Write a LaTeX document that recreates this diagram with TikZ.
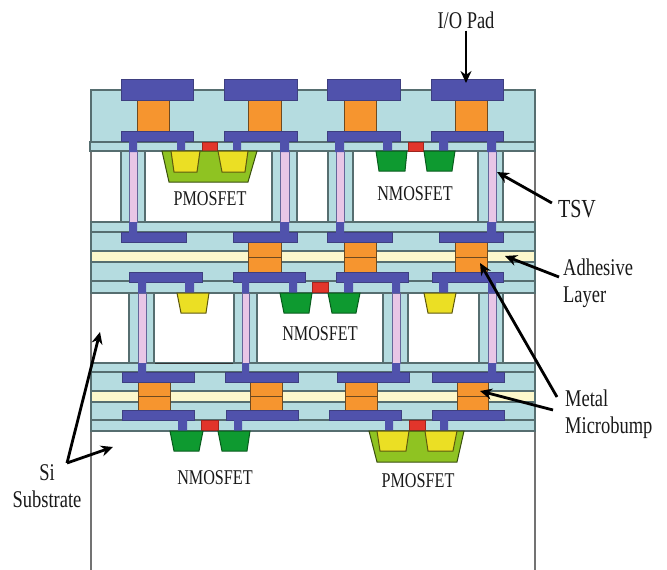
\documentclass[tikz,border=0pt]{standalone}
\usepackage{fontspec}
\usepackage{tikz}
\usetikzlibrary{arrows.meta, positioning}
\newfontfamily\labelfont[FakeStretch=0.77]{Liberation Serif}
\definecolor{oxide}{HTML}{B5DCE0}
\definecolor{oxideline}{HTML}{566E70}
\definecolor{metalblue}{HTML}{5052AC}
\definecolor{metalline}{HTML}{3E3F80}
\definecolor{bumporange}{HTML}{F6952F}
\definecolor{bumpline}{HTML}{6E4A20}
\definecolor{adhesive}{HTML}{FCF8CC}
\definecolor{corepink}{HTML}{E8C6E6}
\definecolor{ngreen}{HTML}{0E9A30}
\definecolor{pwell}{HTML}{8FC322}
\definecolor{pyellow}{HTML}{EBDF24}
\definecolor{gatered}{HTML}{E2352B}

\begin{document}
\begin{tikzpicture}[
    x=1pt, y=-1pt,
    % Styles
    layer/.style={fill=oxide, draw=oxideline, line width=1.3pt},
    glue/.style={fill=adhesive, draw=oxideline, line width=1.3pt},
    sheath/.style={fill=oxide, draw=oxideline, line width=1.3pt},
    core/.style={fill=corepink, draw=metalline!80, line width=0.6pt},
    metal/.style={fill=metalblue, draw=metalline, line width=1pt},
    stem/.style={fill=metalblue},
    bump/.style={fill=bumporange, draw=bumpline, line width=1pt},
    gate/.style={fill=gatered, draw=gatered!70!black, line width=0.4pt},
    ndiff/.style={fill=ngreen, draw=ngreen!60!black, line width=1pt},
    pbody/.style={fill=pwell, draw=pwell!40!black, line width=1pt},
    pdiff/.style={fill=pyellow, draw=pyellow!40!black, line width=1pt},
    devlabel/.style={font=\labelfont\fontsize{21}{23}\selectfont, text=black!90},
    sidelabel/.style={font=\labelfont\fontsize{24}{27}\selectfont, text=black!90, align=left, inner sep=2pt},
    callout/.style={-{Stealth[length=12pt, width=11pt]}, line width=2.8pt, black},
]
\useasboundingbox (0,0) rectangle (667,570);

% === SUBSTRATE WALLS ===
\draw[black!55, line width=1.5pt] (91,90) -- (91,570);
\draw[black!55, line width=1.5pt] (535,90) -- (535,570);

% === DIELECTRIC STACK ===
\draw[layer] (91,90) rectangle (535,142);
\draw[layer] (90,142) rectangle (535,151);
\draw[layer] (91,222) rectangle (535,232) (91,232) rectangle (535,251);
\draw[glue] (91,251) rectangle (535,262);
\draw[layer] (91,262) rectangle (535,281) (91,281) rectangle (535,293);
\draw[layer] (91,363) rectangle (535,372) (91,372) rectangle (535,391);
\draw[glue] (91,391) rectangle (535,402);
\draw[layer] (91,402) rectangle (535,420) (91,420) rectangle (535,431);
\draw[black!80, line width=1pt] (154,363) -- (234,363) -- (234,293);

% === TSVs ===
\draw[sheath] (121,151) rectangle (145,222) (272,151) rectangle (297,222);
\draw[sheath] (328,151) rectangle (353,222) (478,151) rectangle (503,222);
\draw[core] (129,151) rectangle (137,222) (280,151) rectangle (289,222);
\draw[core] (336,151) rectangle (344,222) (488,151) rectangle (496,222);
\draw[sheath] (129,293) rectangle (154,363) (234,293) rectangle (257,363);
\draw[sheath] (383,293) rectangle (408,363) (479,293) rectangle (503,363);
\draw[core] (138,293) rectangle (146,363) (242,293) rectangle (249,363);
\draw[core] (392,293) rectangle (400,363) (488,293) rectangle (496,363);

% === METAL MICROBUMPS ===
\draw[bump] (137,100) rectangle (169,131) (248,100) rectangle (281,131);
\draw[bump] (344,100) rectangle (376,131) (455,100) rectangle (487,131);
\draw[bump] (248,242) rectangle (281,257) (248,257) rectangle (281,272);
\draw[bump] (344,242) rectangle (376,257) (344,257) rectangle (376,272);
\draw[bump] (455,242) rectangle (487,257) (455,257) rectangle (487,272);
\draw[bump] (138,382) rectangle (170,396) (138,396) rectangle (170,410);
\draw[bump] (250,382) rectangle (282,396) (250,396) rectangle (282,410);
\draw[bump] (345,382) rectangle (377,396) (345,396) rectangle (377,410);
\draw[bump] (457,382) rectangle (488,396) (457,396) rectangle (488,410);

% === METAL ===
\draw[metal] (121,79) rectangle (193,100) (224,79) rectangle (297,100);
\draw[metal] (327,79) rectangle (400,100) (431,79) rectangle (503,100);
\draw[metal] (121,131) rectangle (193,141) (224,131) rectangle (297,141);
\draw[metal] (327,131) rectangle (400,141) (431,131) rectangle (503,141);
\fill[stem] (129,140) rectangle (137,152) (177,140) rectangle (185,152);
\fill[stem] (233,140) rectangle (241,152) (280,140) rectangle (289,152);
\fill[stem] (335,140) rectangle (344,152) (383,140) rectangle (392,152);
\fill[stem] (439,140) rectangle (448,152) (487,140) rectangle (496,152);
\draw[metal] (121,232) rectangle (186,242) (233,232) rectangle (297,242);
\draw[metal] (327,232) rectangle (392,242) (439,232) rectangle (503,242);
\fill[stem] (129,222) rectangle (137,233) (280,222) rectangle (289,233);
\fill[stem] (336,222) rectangle (344,233) (487,222) rectangle (496,233);
\draw[metal] (129,272) rectangle (202,282) (233,272) rectangle (305,282);
\draw[metal] (336,272) rectangle (408,282) (432,272) rectangle (503,282);
\fill[stem] (138,281) rectangle (146,293) (185,281) rectangle (194,293);
\fill[stem] (242,281) rectangle (249,293) (289,281) rectangle (297,293);
\fill[stem] (344,281) rectangle (353,293) (392,281) rectangle (400,293);
\fill[stem] (439,281) rectangle (448,293) (488,281) rectangle (496,293);
\draw[metal] (122,372) rectangle (194,382) (225,372) rectangle (298,382);
\draw[metal] (337,372) rectangle (409,382) (432,372) rectangle (504,382);
\fill[stem] (138,363) rectangle (146,373) (242,363) rectangle (249,373);
\fill[stem] (392,363) rectangle (400,373) (488,363) rectangle (496,373);
\draw[metal] (122,410) rectangle (194,420) (226,410) rectangle (298,420);
\draw[metal] (329,410) rectangle (401,420) (432,410) rectangle (504,420);
\fill[stem] (178,419) rectangle (187,431) (234,419) rectangle (242,431);
\fill[stem] (385,419) rectangle (393,431) (440,419) rectangle (448,431);

% === TOP TIER DEVICES ===
\draw[gate] (202,142) rectangle (217,151);
\draw[pbody] (162,151) -- (257,151) -- (248,182) -- (169,182) -- cycle;
\draw[pdiff] (171,151) -- (200,151) -- (197,172) -- (174,172) -- cycle;
\draw[pdiff] (218,151) -- (248,151) -- (245,172) -- (222,172) -- cycle;
\draw[gate] (408,142) rectangle (423,151);
\draw[ndiff] (376,151) -- (407,151) -- (405,171) -- (379,171) -- cycle;
\draw[ndiff] (424,151) -- (455,151) -- (452,171) -- (427,171) -- cycle;
\node[devlabel] (pmostop) at (210,199) {PMOSFET};
\node[devlabel] (nmostop) at (415,194) {NMOSFET};

% === MIDDLE TIER DEVICES ===
\draw[gate] (312,282) rectangle (328,292);
\draw[pdiff] (177,293) -- (209,293) -- (206,313) -- (181,313) -- cycle;
\draw[ndiff] (280,293) -- (312,293) -- (309,313) -- (284,313) -- cycle;
\draw[ndiff] (328,293) -- (360,293) -- (356,313) -- (332,313) -- cycle;
\draw[pdiff] (424,293) -- (456,293) -- (452,313) -- (428,313) -- cycle;
\node[devlabel] (nmosmid) at (320,334) {NMOSFET};

% === BOTTOM TIER DEVICES ===
\draw[gate] (201,420) rectangle (218,430);
\draw[ndiff] (170,431) -- (203,431) -- (199,451) -- (174,451) -- cycle;
\draw[ndiff] (218,431) -- (250,431) -- (247,451) -- (222,451) -- cycle;
\draw[gate] (409,420) rectangle (425,430);
\draw[pbody] (369,431) -- (464,431) -- (457,462) -- (377,462) -- cycle;
\draw[pdiff] (377,431) -- (409,431) -- (406,451) -- (380,451) -- cycle;
\draw[pdiff] (425,431) -- (457,431) -- (453,451) -- (428,451) -- cycle;
\node[devlabel] (nmosbot) at (215,478) {NMOSFET};
\node[devlabel] (pmosbot) at (418,481) {PMOSFET};

% === SIDE LABELS ===
\node[sidelabel] (iopad) at (466,20) {I/O Pad};
\node[sidelabel, font=\labelfont\fontsize{26}{28}\selectfont] (tsv) at (577,209) {TSV};
\node[sidelabel, anchor=west] (adhesivelabel) at (561,283) {Adhesive\\Layer};
\node[sidelabel, anchor=west] (bumplabel) at (563,414) {Metal\\Microbump};
\node[sidelabel, align=center] (silabel) at (47,486) {Si\\Substrate};

% Arrow targets
\coordinate (padtip) at (466,83);
\coordinate (tsvtip) at (497,172);
\coordinate (gluetip) at (505,256);
\coordinate (bumptipa) at (480,263);
\coordinate (bumptipb) at (480,391);
\coordinate (sifork) at (67,463);
\coordinate (sitipa) at (100,332);
\coordinate (sitipb) at (113,447);
\coordinate (bumpfork) at (557,397);
\coordinate (bumpforkb) at (553,410);

% Arrows
\draw[callout] (iopad.south) -- (padtip);
\draw[callout] (tsv.west) ++(-4,-6) -- (tsvtip);
\draw[callout] (adhesivelabel.west) ++(-2,-6) -- (gluetip);
\draw[callout] (bumpfork) -- (bumptipa);
\draw[callout] (bumpforkb) -- (bumptipb);
\draw[callout] (sifork) -- (sitipa);
\draw[callout] (sifork) -- (sitipb);

\end{tikzpicture}
\end{document}
